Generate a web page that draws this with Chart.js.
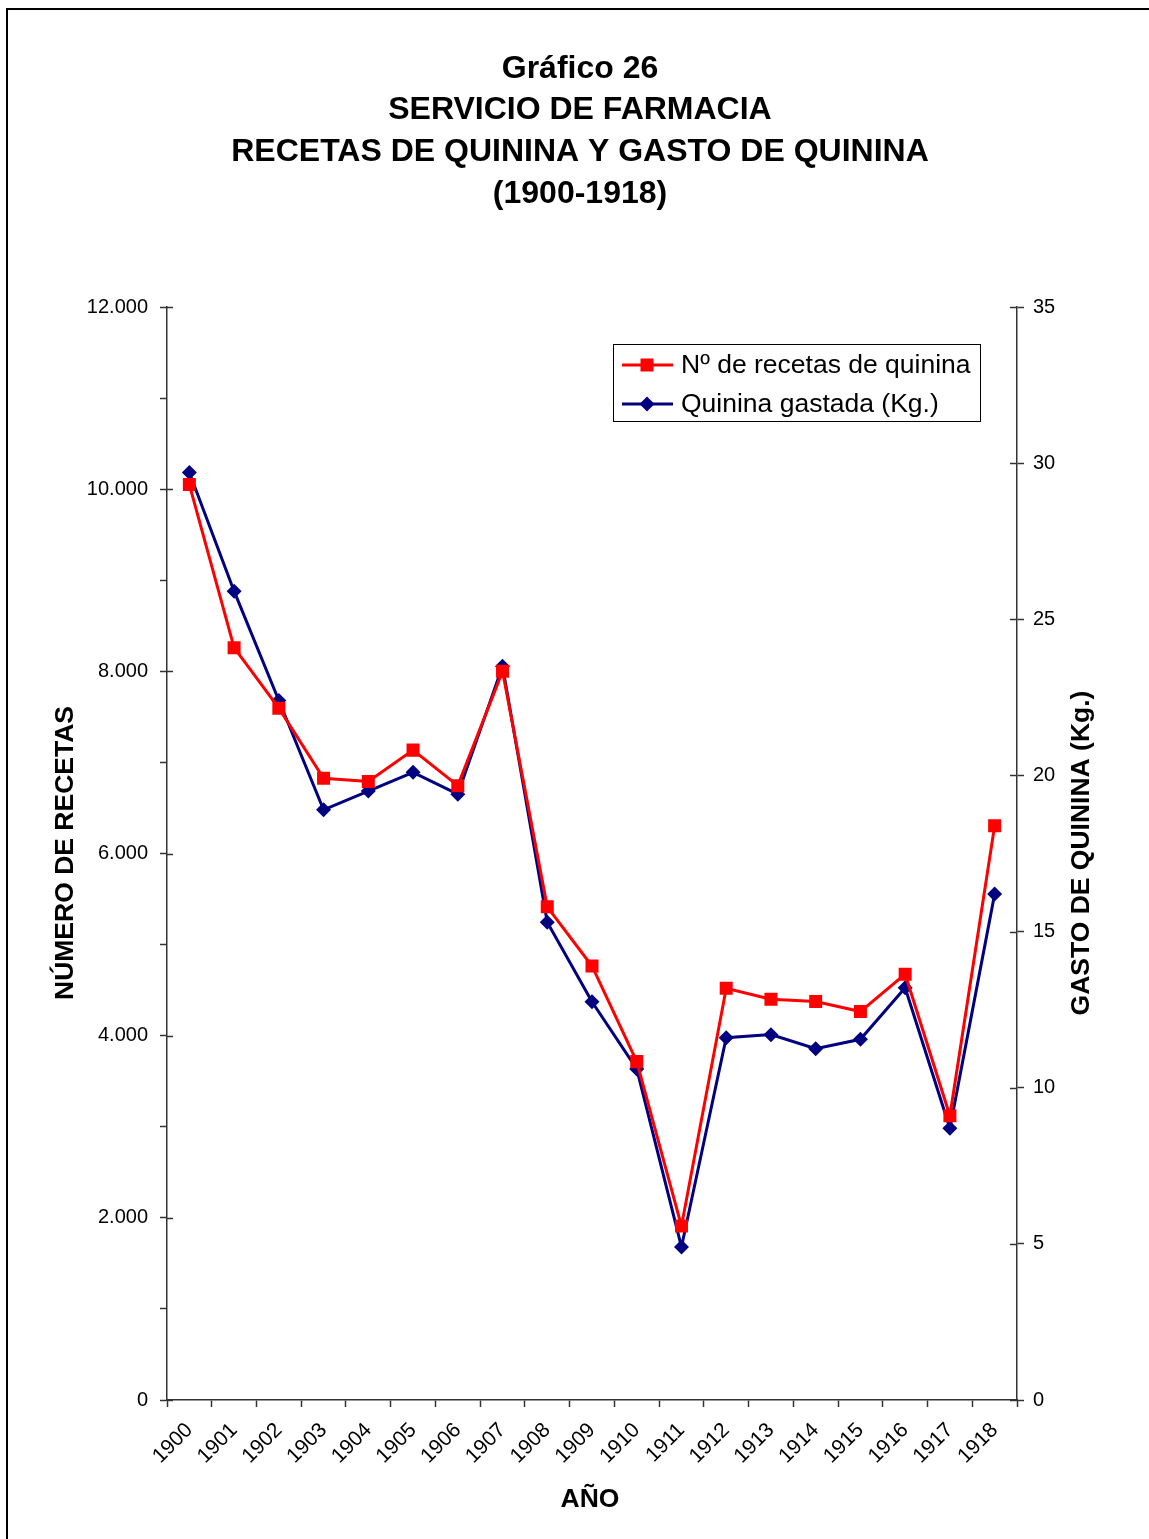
<!DOCTYPE html>
<html>
<head>
<meta charset="utf-8">
<script src="https://cdn.jsdelivr.net/npm/chart.js@4/dist/chart.umd.min.js"></script>
<style>
  html, body { margin: 0; padding: 0; background: #fff; }
  #wrap { width: 1149px; height: 1539px; position: relative; }
</style>
</head>
<body>
<div id="wrap"><canvas id="c" width="1149" height="1539"></canvas></div>
<script>
// Years on the category axis
const years = ['1900','1901','1902','1903','1904','1905','1906','1907','1908','1909',
               '1910','1911','1912','1913','1914','1915','1916','1917','1918'];
// Number of quinine prescriptions (left axis)
const recetas = [10050, 8260, 7595, 6825, 6790, 7135, 6745, 8000, 5415, 4765,
                 3715, 1910, 4520, 4400, 4375, 4265, 4675, 3120, 6305];
// Quinine used, in kg (right axis)
const quinina = [29.7, 25.9, 22.4, 18.9, 19.5, 20.1, 19.4, 23.5, 15.3, 12.75,
                 10.6, 4.9, 11.6, 11.7, 11.25, 11.55, 13.2, 8.7, 16.2];

const titleLines = ['Gráfico 26', 'SERVICIO DE FARMACIA',
                    'RECETAS DE QUININA Y GASTO DE QUININA', '(1900-1918)'];
const seriesNames = ['Nº de recetas de quinina', 'Quinina gastada (Kg.)'];
const xTitle = 'AÑO';
const leftTitle = 'NÚMERO DE RECETAS';
const rightTitle = 'GASTO DE QUININA (Kg.)';

const FONT = "'Liberation Sans', Arial, sans-serif";
const RED = '#FF0000';
const NAVY = '#000080';
const AXIS = '#333333';

function thousands(v) {
  return String(v).replace(/\B(?=(\d{3})+(?!\d))/g, '.');
}

function marker(ctx, style, x, y, color) {
  ctx.save();
  ctx.fillStyle = color;
  ctx.beginPath();
  if (style === 'rect') {
    ctx.rect(x - 6.5, y - 6.5, 13, 13);
  } else {
    ctx.moveTo(x, y - 7.5); ctx.lineTo(x + 7.5, y); ctx.lineTo(x, y + 7.5); ctx.lineTo(x - 7.5, y);
    ctx.closePath();
  }
  ctx.fill();
  ctx.restore();
}

const decor = {
  id: 'decor',
  beforeDraw(chart) {
    const ctx = chart.ctx;
    ctx.save();
    ctx.fillStyle = '#fff';
    ctx.fillRect(0, 0, chart.width, chart.height);
    ctx.restore();
  },
  afterDraw(chart) {
    const ctx = chart.ctx;
    const area = chart.chartArea;
    ctx.save();

    // outer frame
    ctx.strokeStyle = '#000';
    ctx.lineWidth = 2;
    ctx.strokeRect(7, 9, 1200, 1600);

    // title
    ctx.fillStyle = '#000';
    ctx.textAlign = 'center';
    ctx.textBaseline = 'middle';
    ctx.font = 'bold 32px ' + FONT;
    const tY = [69, 110, 152, 194];
    titleLines.forEach((t, i) => ctx.fillText(t, 580, tY[i]));

    // axis titles
    ctx.font = 'bold 26.5px ' + FONT;
    ctx.fillText(xTitle, 590, 1500);
    ctx.save();
    ctx.translate(66, 853);
    ctx.rotate(-Math.PI / 2);
    ctx.fillText(leftTitle, 0, 0);
    ctx.restore();
    ctx.save();
    ctx.translate(1082, 853);
    ctx.rotate(-Math.PI / 2);
    ctx.fillText(rightTitle, 0, 0);
    ctx.restore();

    // inward halves of the major ticks on both value axes
    ctx.strokeStyle = AXIS;
    ctx.lineWidth = 1.5;
    const yL = chart.scales.y;
    yL.ticks.forEach(t => {
      if (t.value % 2000 !== 0) return;
      const py = Math.round(yL.getPixelForValue(t.value)) + 0.5;
      ctx.beginPath(); ctx.moveTo(area.left, py); ctx.lineTo(area.left + 6, py); ctx.stroke();
    });
    const yR = chart.scales.y1;
    yR.ticks.forEach(t => {
      const py = Math.round(yR.getPixelForValue(t.value)) + 0.5;
      ctx.beginPath(); ctx.moveTo(area.right - 7, py); ctx.lineTo(area.right, py); ctx.stroke();
    });

    // legend
    const lx = 613, ly = 344, lw = 367, lh = 77;
    ctx.fillStyle = '#fff';
    ctx.fillRect(lx, ly, lw, lh);
    ctx.strokeStyle = '#000';
    ctx.lineWidth = 1;
    ctx.strokeRect(lx + 0.5, ly + 0.5, lw, lh);
    const rows = [
      { name: seriesNames[0], color: RED, style: 'rect', y: 365 },
      { name: seriesNames[1], color: NAVY, style: 'diamond', y: 404 }
    ];
    ctx.font = '26.5px ' + FONT;
    ctx.textAlign = 'left';
    ctx.textBaseline = 'middle';
    rows.forEach(r => {
      ctx.strokeStyle = r.color;
      ctx.lineWidth = 3;
      ctx.beginPath(); ctx.moveTo(622, r.y); ctx.lineTo(673, r.y); ctx.stroke();
      marker(ctx, r.style, 647, r.y, r.color);
      ctx.fillStyle = '#000';
      ctx.fillText(r.name, 681, r.y + 1);
    });
    ctx.restore();
  }
};

new Chart(document.getElementById('c'), {
  type: 'line',
  data: {
    labels: years,
    datasets: [
      {
        label: seriesNames[0], data: recetas, yAxisID: 'y',
        borderColor: RED, backgroundColor: RED, borderWidth: 3,
        pointStyle: 'rect', pointRadius: 9.2, pointHoverRadius: 9.2,
        pointBorderWidth: 0, tension: 0
      },
      {
        label: seriesNames[1], data: quinina, yAxisID: 'y1',
        borderColor: NAVY, backgroundColor: NAVY, borderWidth: 3,
        pointStyle: 'rectRot', pointRadius: 7.5, pointHoverRadius: 7.5,
        pointBorderWidth: 0, tension: 0
      }
    ]
  },
  options: {
    responsive: false,
    animation: false,
    devicePixelRatio: 1,
    layout: { padding: { top: 307, left: 0, right: 0, bottom: 0 } },
    plugins: { legend: { display: false }, title: { display: false }, tooltip: { enabled: false } },
    scales: {
      x: {
        type: 'category',
        offset: true,
        afterFit(s) { s.height = 139; },
        border: { display: true, color: AXIS, width: 1.5 },
        grid: { display: true, offset: true, drawOnChartArea: false, drawTicks: true,
                tickLength: 7, tickColor: AXIS, tickWidth: 1.5 },
        ticks: { color: '#000', font: { family: FONT, size: 21 },
                 minRotation: 45, maxRotation: 45, padding: 11, autoSkip: false }
      },
      y: {
        position: 'left',
        min: 0, max: 12000,
        afterFit(s) { s.width = 167; },
        border: { display: true, color: AXIS, width: 1.5 },
        grid: { display: true, drawOnChartArea: false, drawTicks: true,
                tickLength: 7, tickColor: AXIS, tickWidth: 1.5 },
        ticks: { stepSize: 1000, color: '#000', font: { family: FONT, size: 20 }, padding: 12,
                 callback: v => (v % 2000 === 0 ? thousands(v) : '') }
      },
      y1: {
        position: 'right',
        min: 0, max: 35,
        afterFit(s) { s.width = 132; },
        border: { display: true, color: AXIS, width: 1.5 },
        grid: { display: true, drawOnChartArea: false, drawTicks: true,
                tickLength: 7, tickColor: AXIS, tickWidth: 1.5 },
        ticks: { stepSize: 5, color: '#000', font: { family: FONT, size: 20 }, padding: 9 }
      }
    }
  },
  plugins: [decor]
});
</script>
</body>
</html>
